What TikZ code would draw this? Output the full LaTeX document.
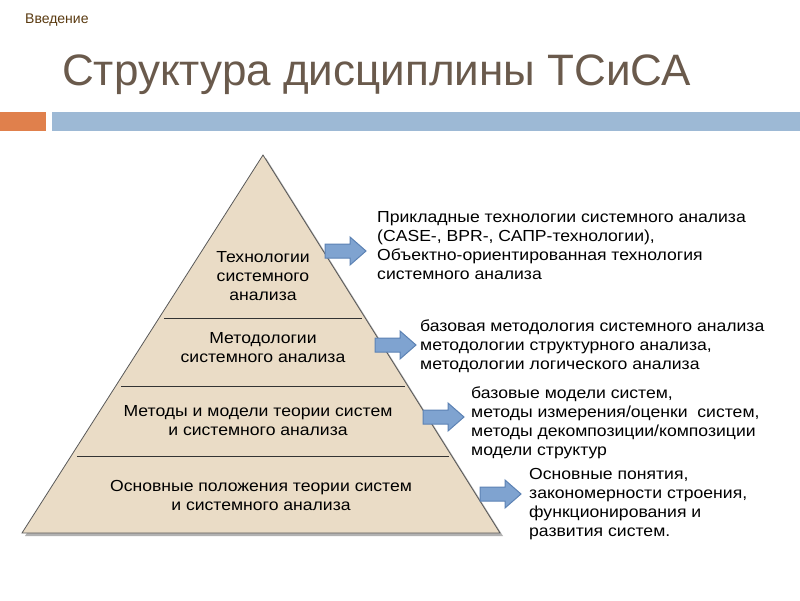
\documentclass[tikz,border=0pt]{standalone}
\usepackage{fontspec}
\setmainfont{Liberation Sans}
\begin{document}
\begin{tikzpicture}[x=1pt,y=-1pt,
  txt/.style={anchor=north west,inner sep=0pt,align=left,font=\fontsize{16}{19}\selectfont\addfontfeature{FakeStretch=1.1}},
  ptxt/.style={inner sep=0pt,align=center,font=\fontsize{16}{19}\selectfont\addfontfeature{FakeStretch=1.1}},
  barrow/.style={fill=arrowblue,draw=arrowedge,line width=1pt}]
\definecolor{arrowblue}{HTML}{7FA3D0}
\definecolor{arrowedge}{HTML}{5C82B4}
\definecolor{beige}{HTML}{EADCC6}
\definecolor{titlec}{HTML}{6A5A4C}
\definecolor{introc}{HTML}{5A3A10}
\definecolor{barblue}{HTML}{9DB9D5}
\definecolor{barorange}{HTML}{E0804C}
\useasboundingbox (0,0) rectangle (800,600);
\fill[white] (0,0) rectangle (800,600);
\node[anchor=west,inner sep=0pt,text=introc,font=\fontsize{14}{16}\selectfont] (intro) at (25,20) {Введение};
\node[anchor=west,inner sep=0pt,text=titlec,font=\fontsize{44}{50}\selectfont] (title) at (62,75) {Структура дисциплины ТСиСА};
\fill[barorange] (0,112) rectangle (46,131);
\fill[barblue] (52,112) rectangle (800,131);
% pyramid
\fill[gray!60] (266,158) -- (503,536) -- (25,536) -- cycle;
\filldraw[fill=beige,draw=gray!70!black,line width=0.8pt] (263,155) coordinate (apex) -- (500,533) coordinate (br) -- (22,533) coordinate (bl) -- cycle;
\draw[gray!40!black,line width=0.8pt] (164,318) -- (362,318);
\draw[gray!40!black,line width=0.8pt] (121,386) -- (405,386);
\draw[gray!40!black,line width=0.8pt] (77,456) -- (449,456);
\node[ptxt] (p1) at (263,276) {Технологии\\системного\\анализа};
\node[ptxt] (p2) at (263,348) {Методологии\\системного анализа};
\node[ptxt] (p3) at (258,421) {Методы и модели теории систем\\и системного анализа};
\node[ptxt] (p4) at (261,495) {Основные положения теории систем\\и системного анализа};
% arrows
\foreach \x/\y in {325/251,375/345,423/417,480/494}{
  \draw[barrow] (\x,\y-7) -- (\x+25,\y-7) -- (\x+25,\y-14) -- (\x+41,\y) -- (\x+25,\y+14) -- (\x+25,\y+7) -- (\x,\y+7) -- cycle;
}
\node[txt] (t1) at (377,211) {Прикладные технологии системного анализа\\(CASE-, BPR-, САПР-технологии),\\Объектно-ориентированная технология\\системного анализа};
\node[txt] (t2) at (420,320) {базовая методология системного анализа\\методологии структурного анализа,\\методологии логического анализа};
\node[txt] (t3) at (471,387) {базовые модели систем,\\методы измерения/оценки~ систем,\\методы декомпозиции/композиции\\модели структур};
\node[txt] (t4) at (529,468) {Основные понятия,\\закономерности строения,\\функционирования и\\развития систем.};
\end{tikzpicture}
\end{document}
